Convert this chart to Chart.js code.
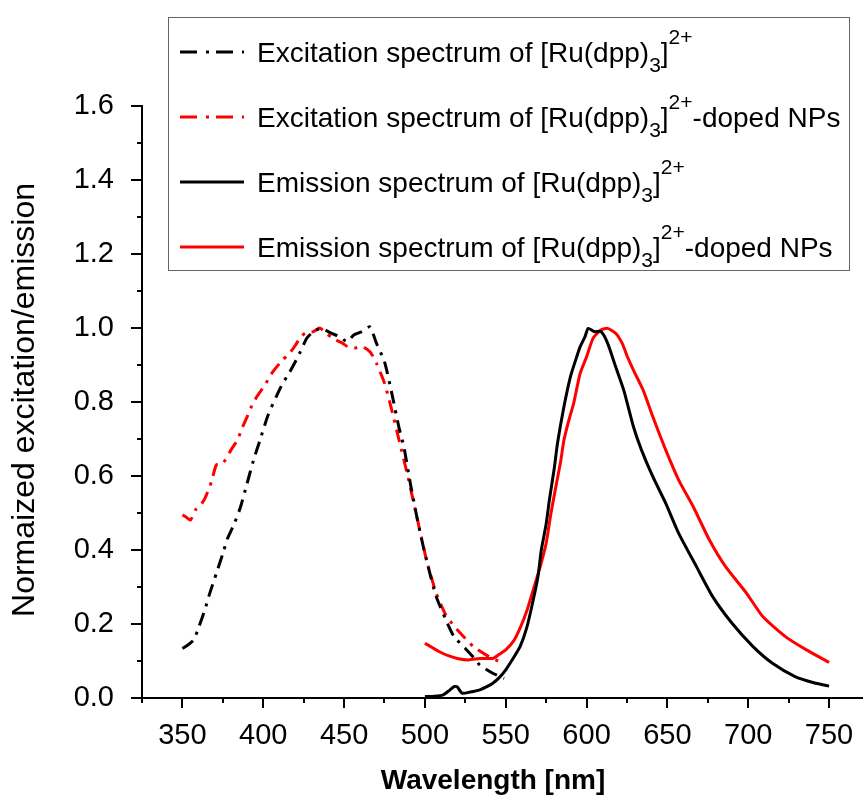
<!DOCTYPE html>
<html>
<head>
<meta charset="utf-8">
<script src="https://cdn.jsdelivr.net/npm/chart.js@4.4.1/dist/chart.umd.min.js"></script>
<style>
  html, body { margin: 0; padding: 0; background: #fff; overflow: hidden; }
  canvas { display: block; }
</style>
</head>
<body>
<canvas id="spectraChart" width="863" height="798"></canvas>
<script>
// wavelengths (nm) and normalized intensities
const excX = [350, 353, 357, 360, 364, 367, 371, 375, 378, 382, 386, 390, 394, 398, 403, 408, 412, 416, 420, 423, 427, 431, 436, 442, 447, 452, 456, 461, 466, 470, 475, 480, 484, 487, 491, 495, 499, 503, 507, 513, 518, 525, 530, 534, 542, 549];
const excY = [0.134, 0.142, 0.157, 0.19, 0.24, 0.284, 0.337, 0.39, 0.432, 0.47, 0.517, 0.58, 0.643, 0.697, 0.765, 0.814, 0.85, 0.878, 0.91, 0.936, 0.973, 0.99, 0.999, 0.986, 0.977, 0.963, 0.981, 0.99, 1.003, 0.959, 0.909, 0.814, 0.73, 0.679, 0.58, 0.49, 0.409, 0.338, 0.274, 0.211, 0.166, 0.134, 0.11, 0.089, 0.067, 0.053];

const excNpX = [350, 352, 355, 358, 361, 364, 368, 371, 375, 380, 384, 387, 390, 393, 396, 401, 406, 412, 416, 420, 423, 426, 431, 435, 439, 443, 449, 452, 456, 461, 466, 470, 475, 479, 484, 489, 495, 501, 507, 513, 517, 522, 530, 538, 548];
const excNpY = [0.495, 0.49, 0.481, 0.508, 0.52, 0.54, 0.585, 0.63, 0.634, 0.67, 0.697, 0.73, 0.76, 0.79, 0.814, 0.846, 0.882, 0.914, 0.93, 0.954, 0.975, 0.986, 0.99, 1.0, 0.986, 0.972, 0.959, 0.95, 0.945, 0.95, 0.936, 0.905, 0.851, 0.787, 0.697, 0.607, 0.49, 0.373, 0.283, 0.224, 0.2, 0.175, 0.139, 0.116, 0.094];

const emX = [500, 506, 511, 515, 518, 520, 523, 528, 534, 538, 542, 546, 550, 555, 559, 563, 567, 570, 572, 575, 577, 580, 582, 586, 590, 593, 596, 599, 601, 605, 609, 613, 618, 623, 629, 634, 641, 649, 657, 668, 678, 690, 703, 715, 729, 740, 750];
const emY = [0.004, 0.005, 0.008, 0.02, 0.031, 0.03, 0.013, 0.016, 0.022, 0.03, 0.04, 0.055, 0.076, 0.11, 0.14, 0.19, 0.265, 0.33, 0.4, 0.47, 0.535, 0.62, 0.688, 0.787, 0.868, 0.91, 0.949, 0.976, 0.999, 0.99, 0.99, 0.959, 0.895, 0.832, 0.733, 0.67, 0.598, 0.526, 0.445, 0.355, 0.274, 0.202, 0.139, 0.094, 0.058, 0.042, 0.032];

const emNpX = [500, 505, 509, 514, 520, 527, 534, 542, 546, 550, 555, 559, 563, 567, 571, 575, 578, 581, 584, 586, 589, 592, 596, 600, 604, 609, 613, 618, 622, 625, 629, 635, 641, 649, 657, 666, 676, 686, 699, 709, 723, 736, 750];
const emNpY = [0.148, 0.135, 0.125, 0.115, 0.107, 0.103, 0.107, 0.107, 0.118, 0.13, 0.155, 0.19, 0.235, 0.292, 0.35, 0.418, 0.5, 0.571, 0.64, 0.697, 0.75, 0.796, 0.877, 0.922, 0.972, 0.995, 0.999, 0.986, 0.959, 0.925, 0.886, 0.832, 0.76, 0.67, 0.589, 0.517, 0.427, 0.355, 0.283, 0.22, 0.166, 0.13, 0.096];

// axis ticks
const xMin = 325, xMax = 771;
const xTicks = [325, 350, 375, 400, 425, 450, 475, 500, 525, 550, 575, 600, 625, 650, 675, 700, 725, 750];
const yTicks = [0, 0.1, 0.2, 0.3, 0.4, 0.5, 0.6, 0.7, 0.8, 0.9, 1.0, 1.1, 1.2, 1.3, 1.4, 1.5, 1.6];

// legend entries: [text, kind] pieces, kind n = normal, sub, sup
const legendRows = [
    { color: '#000', dashed: true,  parts: [['Excitation spectrum of [Ru(dpp)', 'n'], ['3', 'sub'], [']', 'n'], ['2+', 'sup']] },
    { color: '#f00', dashed: true,  parts: [['Excitation spectrum of [Ru(dpp)', 'n'], ['3', 'sub'], [']', 'n'], ['2+', 'sup'], ['-doped NPs', 'n']] },
    { color: '#000', dashed: false, parts: [['Emission spectrum of [Ru(dpp)', 'n'], ['3', 'sub'], [']', 'n'], ['2+', 'sup']] },
    { color: '#f00', dashed: false, parts: [['Emission spectrum of [Ru(dpp)', 'n'], ['3', 'sub'], [']', 'n'], ['2+', 'sup'], ['-doped NPs', 'n']] }
];

const FONT = 'Arial, "Liberation Sans", sans-serif';
const dashDot = [13, 7, 3, 7];

function toPoints(xs, ys) {
    return xs.map((x, i) => ({ x: x, y: ys[i] }));
}

function isMajorY(v) { return Math.round(v * 10) % 2 === 0; }
function isMajorX(v) { return v % 50 === 0; }

/* =====================
   Extras: ticks, titles, legend
   ===================== */
const extrasPlugin = {
    id: 'extras',
    afterDraw(chart) {
        const ctx = chart.ctx;
        const xs = chart.scales.x, ys = chart.scales.y;
        const area = chart.chartArea;

        // tick marks (major long, minor short)
        ctx.save();
        ctx.strokeStyle = '#000';
        ctx.lineWidth = 2;
        ctx.beginPath();
        xTicks.forEach(v => {
            const px = Math.round(xs.getPixelForValue(v));
            const len = isMajorX(v) ? 10 : 5;
            ctx.moveTo(px, area.bottom);
            ctx.lineTo(px, area.bottom + len);
        });
        yTicks.forEach(v => {
            const py = Math.round(ys.getPixelForValue(v));
            const len = isMajorY(v) ? 11 : 5;
            ctx.moveTo(area.left, py);
            ctx.lineTo(area.left - len, py);
        });
        ctx.stroke();

        // axis titles
        ctx.fillStyle = '#000';
        ctx.textAlign = 'center';
        ctx.textBaseline = 'middle';
        ctx.font = 'bold 28px ' + FONT;
        ctx.fillText('Wavelength [nm]', 493, 781);
        ctx.save();
        ctx.translate(25, 400);
        ctx.rotate(-Math.PI / 2);
        ctx.font = '32px ' + FONT;
        ctx.fillText('Normaized excitation/emission', 0, 0);
        ctx.restore();

        // legend box
        ctx.fillStyle = '#fff';
        ctx.fillRect(168, 17, 681, 253);
        ctx.strokeStyle = '#666';
        ctx.lineWidth = 1;
        ctx.strokeRect(168.5, 17.5, 681, 253);

        const rowY = [52, 117, 182, 247];
        legendRows.forEach((row, i) => {
            const y = rowY[i];
            ctx.beginPath();
            ctx.strokeStyle = row.color;
            ctx.lineWidth = 3;
            ctx.setLineDash(row.dashed ? [17, 9, 3, 7] : []);
            ctx.moveTo(180, y);
            ctx.lineTo(244, y);
            ctx.stroke();
            ctx.setLineDash([]);

            let x = 257;
            const base = y + 10;
            ctx.textAlign = 'left';
            ctx.textBaseline = 'alphabetic';
            ctx.fillStyle = '#000';
            row.parts.forEach(p => {
                let dy = 0;
                if (p[1] === 'n') {
                    ctx.font = '28px ' + FONT;
                } else {
                    ctx.font = '21px ' + FONT;
                    dy = p[1] === 'sub' ? 10 : -18;
                }
                ctx.fillText(p[0], x, base + dy);
                x += ctx.measureText(p[0]).width;
            });
        });
        ctx.restore();
    }
};

const ctx = document.getElementById('spectraChart');
new Chart(ctx, {
    type: 'scatter',
    data: {
        datasets: [
            { label: 'exc', data: toPoints(excX, excY), borderColor: '#000', borderDash: dashDot },
            { label: 'excNp', data: toPoints(excNpX, excNpY), borderColor: '#f00', borderDash: dashDot },
            { label: 'em', data: toPoints(emX, emY), borderColor: '#000' },
            { label: 'emNp', data: toPoints(emNpX, emNpY), borderColor: '#f00' }
        ]
    },
    options: {
        responsive: false,
        animation: false,
        showLine: true,
        layout: { padding: { left: 0, top: 106, right: 0, bottom: 0 } },
        elements: {
            point: { radius: 0 },
            line: { borderWidth: 3, tension: 0.2, fill: false }
        },
        plugins: {
            legend: { display: false },
            tooltip: { enabled: false }
        },
        scales: {
            x: {
                type: 'linear',
                min: xMin,
                max: xMax,
                afterBuildTicks: (scale) => { scale.ticks = xTicks.concat([xMax]).map(v => ({ value: v })); },
                afterFit: (scale) => {
                    scale.height = 100;
                    // axis runs to the right edge of the picture
                    scale.paddingLeft = 0;
                    scale.paddingRight = 0;
                },
                grid: { display: false },
                border: { display: true, color: '#000', width: 2 },
                ticks: {
                    autoSkip: false,
                    maxRotation: 0,
                    padding: 13,
                    color: '#000',
                    font: { family: FONT, size: 29 },
                    callback: (v) => isMajorX(v) ? String(v) : ''
                }
            },
            y: {
                type: 'linear',
                min: 0,
                max: 1.6,
                afterBuildTicks: (scale) => { scale.ticks = yTicks.map(v => ({ value: v })); },
                afterFit: (scale) => { scale.width = 142; },
                grid: { display: false },
                border: { display: true, color: '#000', width: 2 },
                ticks: {
                    autoSkip: false,
                    padding: 20,
                    color: '#000',
                    font: { family: FONT, size: 29 },
                    callback: (v) => isMajorY(v) ? v.toFixed(1) : ''
                }
            }
        }
    },
    plugins: [extrasPlugin]
});
</script>
</body>
</html>
